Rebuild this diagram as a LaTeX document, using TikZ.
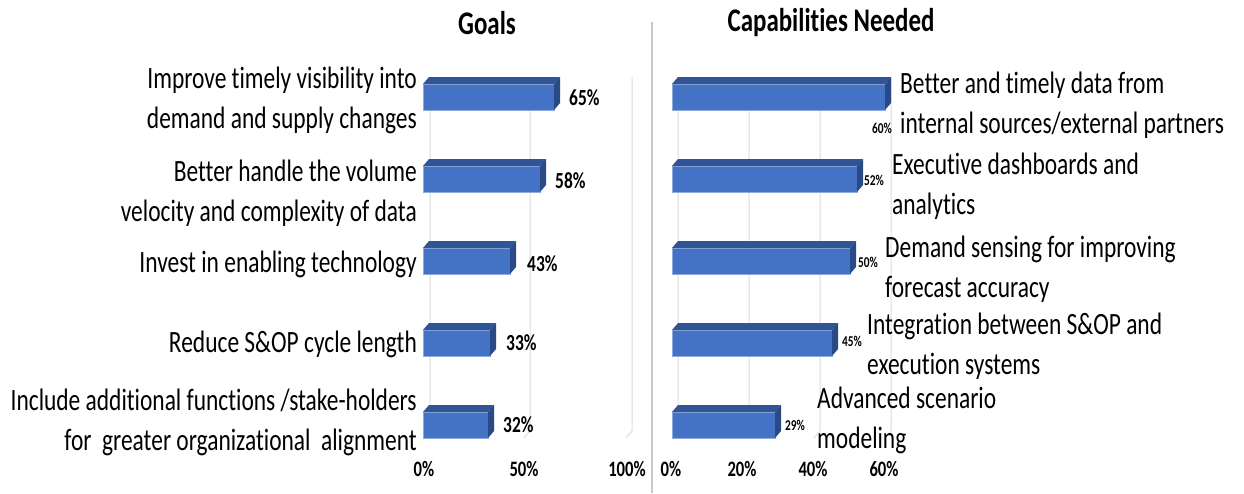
\documentclass[tikz,border=0pt]{standalone}
\usepackage{fontspec}
\setmainfont{Carlito}[FakeStretch=0.756,Ligatures=NoCommon]
\definecolor{barfront}{HTML}{4472C4}
\definecolor{bartop}{HTML}{2F5597}
\definecolor{barside}{HTML}{2A4A86}
\definecolor{gridc}{HTML}{DDDDDD}
\definecolor{divc}{HTML}{C8C8C8}
\newcommand\threedbar[4]{%
  \fill[barfront,draw=barfront!60!white,line width=0.6pt] (#1,#2) rectangle ++(#3,26);
  \fill[bartop] (#1,#2) -- ++(6,-7) -- ++(#3,0) -- ++(-6,7) -- cycle;
  \fill[barside] (#1+#3,#2) -- ++(6,-7) -- ++(0,26) -- ++(-6,7) -- cycle;
  \coordinate (#4) at (#1+#3+6,#2+13);
}
\begin{document}
\begin{tikzpicture}[x=1pt,y=-1pt,
  lbl/.style={font=\fontsize{31}{40}\selectfont, inner sep=0pt},
  pctL/.style={font=\bfseries\fontsize{23}{23}\selectfont, inner sep=0pt},
  pctS/.style={font=\bfseries\fontsize{15}{15}\selectfont, inner sep=0pt},
  axl/.style={font=\bfseries\fontsize{22}{22}\selectfont, inner sep=0pt},
  ttl/.style={font=\bfseries\fontsize{33}{33}\selectfont, inner sep=0pt},
  gridl/.style={draw=gridc, line width=1pt}]
\useasboundingbox (0,0) rectangle (1244,493);
\fill[white] (0,0) rectangle (1244,493);
% titles
\node[ttl] (tgoals) at (487,23) {Goals};
\node[ttl] (tcap) at (831,23) {Capabilities Needed};
% divider
\draw[divc, line width=1.2pt] (652,22) -- (652,493);
% gridlines left
\foreach \g in {430,530,632} \draw[gridl] (\g,77) -- (\g,431) -- (\g-6,438);
% gridlines right
\foreach \g in {678,749,820,891} \draw[gridl] (\g,77) -- (\g,431) -- (\g-6,438);
% left bars
\threedbar{423}{84}{131}{le1}
\threedbar{423}{166}{117}{le2}
\threedbar{423}{248}{87}{le3}
\threedbar{423}{330}{67}{le4}
\threedbar{423}{412}{65}{le5}
% right bars
\threedbar{672}{84}{213}{re1}
\threedbar{672}{166}{185}{re2}
\threedbar{672}{248}{178}{re3}
\threedbar{672}{330}{160}{re4}
\threedbar{672}{412}{103}{re5}
% left percent labels
\node[pctL, anchor=west] (lp1) at ([xshift=9pt,yshift=-1pt]le1) {65\%};
\node[pctL, anchor=west] (lp2) at ([xshift=9pt,yshift=-2pt]le2) {58\%};
\node[pctL, anchor=west] (lp3) at ([xshift=11pt,yshift=-3pt]le3) {43\%};
\node[pctL, anchor=west] (lp4) at ([xshift=10pt,yshift=0pt]le4) {33\%};
\node[pctL, anchor=west] (lp5) at ([xshift=9pt,yshift=0pt]le5) {32\%};
% right percent labels
\node[pctS] (rp1) at (882,128) {60\%};
\node[pctS, anchor=west] (rp2) at (864,180) {52\%};
\node[pctS, anchor=west] (rp3) at (858,262) {50\%};
\node[pctS, anchor=west] (rp4) at (842,341) {45\%};
\node[pctS, anchor=west] (rp5) at (785,425) {29\%};
% left category labels
\node[lbl, anchor=east, align=right] (lc1) at (417,100) {Improve timely visibility into\\demand and supply changes};
\node[lbl, anchor=east, align=right] (lc2) at (417,193) {Better handle the volume\\velocity and complexity of data};
\node[lbl, anchor=east, align=right] (lc3) at (417,264) {Invest in enabling technology};
\node[lbl, anchor=east, align=right] (lc4) at (417,344) {Reduce S\&OP cycle length};
\node[lbl, anchor=east, align=right] (lc5) at (417,422) {Include additional functions /stake-holders\\for\ \ greater organizational\ \ alignment};
% right category labels
\node[lbl, anchor=west, align=left] (rc1) at (900,105) {Better and timely data from\\internal sources/external partners};
\node[lbl, anchor=west, align=left] (rc2) at (892,186) {Executive dashboards and\\analytics};
\node[lbl, anchor=west, align=left] (rc3) at (885,269) {Demand sensing for improving\\forecast accuracy};
\node[lbl, anchor=west, align=left] (rc4) at (867,346) {Integration between S\&OP and\\execution systems};
\node[lbl, anchor=west, align=left] (rc5) at (817,420) {Advanced scenario\\modeling};
% axis labels
\node[axl] (la0) at (424,469) {0\%};
\node[axl] (la50) at (524,469) {50\%};
\node[axl] (la100) at (627,469) {100\%};
\node[axl] (ra0) at (671,469) {0\%};
\node[axl] (ra20) at (742,469) {20\%};
\node[axl] (ra40) at (813,469) {40\%};
\node[axl] (ra60) at (884,469) {60\%};
\end{tikzpicture}
\end{document}
